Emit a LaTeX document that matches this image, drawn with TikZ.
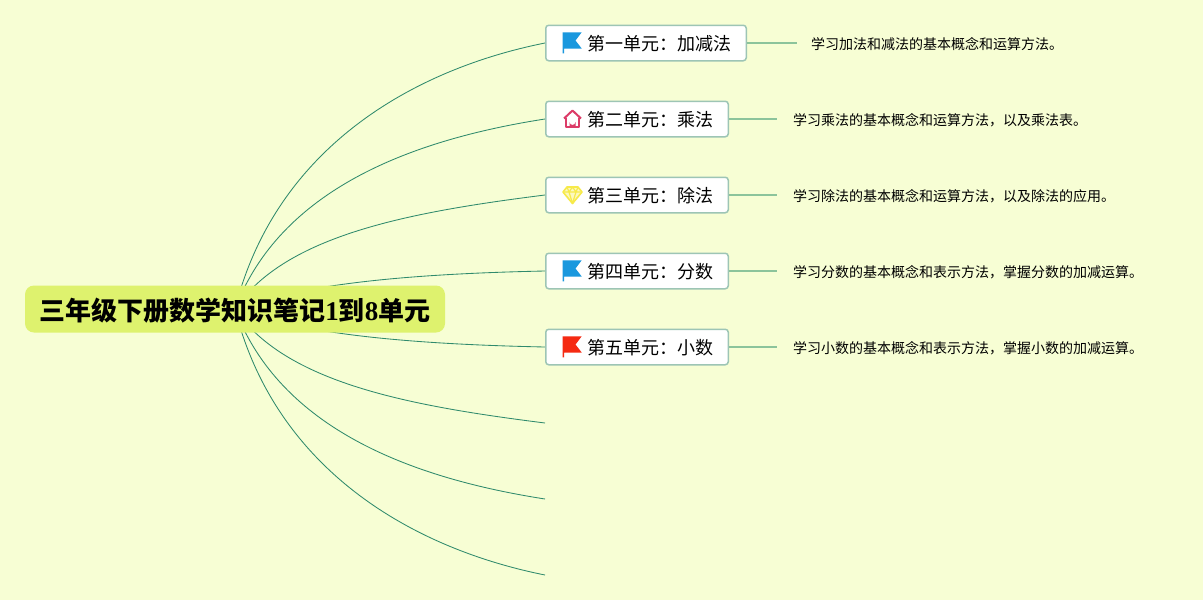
\documentclass[tikz,border=0pt]{standalone}
\usepackage{fontspec}
\setmainfont{Noto Sans CJK SC}
\newfontfamily\digitfont{Liberation Serif}[BoldFont={Liberation Serif Bold}]
\pgfdeclarelayer{background}
\pgfsetlayers{background,main}
\definecolor{bgc}{HTML}{F7FED4}
\definecolor{rootc}{HTML}{DEF26E}
\definecolor{boxb}{HTML}{9DC5B5}
\definecolor{curvec}{HTML}{2F8A6C}
\definecolor{linec}{HTML}{8CC49B}
\definecolor{flagb}{HTML}{1A98DE}
\definecolor{flagr}{HTML}{F52A12}
\definecolor{homec}{HTML}{DC3C68}
\definecolor{gemc}{HTML}{F7EA4A}
\tikzset{
  x=1pt,y=-1pt,
  rootnode/.style={fill=rootc,rounded corners=9pt,minimum width=420pt,minimum height=47pt,inner sep=0pt,text height=23.6pt,text depth=0.2pt,font=\fontsize{26pt}{30pt}\selectfont\bfseries},
  unit/.style={draw=boxb,line width=1.5pt,fill=white,rounded corners=3pt,minimum height=35.5pt,inner ysep=0pt,inner xsep=0pt,anchor=west,text height=15.4pt,text depth=0.4pt,font=\fontsize{18pt}{22pt}\selectfont},
  detail/.style={anchor=west,inner sep=0pt,font=\fontsize{14pt}{18pt}\selectfont},
  curve/.style={draw=curvec,line width=0.85pt},
  stub/.style={draw=linec,line width=1.5pt},
  flagicon/.pic={\fill[pic actions] (-9.3,-10.7) -- (9.7,-10.7) -- (3.5,-2.5) -- (9.7,5.5) -- (-8,5.5) -- (-8,10.3) -- (-9.3,10.3) -- cycle;},
  homeicon/.pic={
    \draw[homec,line width=2pt,line join=round] (-8.5,-0.5) -- (0,-8.5) -- (8.5,-0.5);
    \draw[homec,line width=2pt,line join=round] (-6.5,-1.5) -- (-6.5,8) -- (6.5,8) -- (6.5,-1.5);
    \fill[homec] (-3,8) -- (-3,3) arc[start angle=180,end angle=0,radius=3] -- (3,8) -- cycle;},
  gemicon/.pic={
    \draw[gemc,fill=gemc!35!white,line width=1.6pt,line join=round] (-5.5,-8) -- (5.5,-8) -- (9.5,-3) -- (0,8.5) -- (-9.5,-3) -- cycle;
    \draw[gemc,line width=1.2pt,line join=round] (-9.5,-3) -- (9.5,-3) (-5.5,-8) -- (-3.5,-3) -- (0,-8) -- (3.5,-3) -- (5.5,-8) (-3.5,-3) -- (0,8.5) -- (3.5,-3);}
}
\begin{document}
\begin{tikzpicture}
\useasboundingbox (0,0) rectangle (1203,600);
\node[rootnode] (root) at (235,309) {三年级下册数学知识笔记{\digitfont\fontsize{27pt}{30pt}\selectfont 1}到{\digitfont\fontsize{27pt}{30pt}\selectfont 8}单元};

\node[unit,minimum width=200.5pt,text width=200.5pt] (u1) at (545,43) {\hspace*{41.5pt}第一单元：加减法};
\node[unit,minimum width=182.5pt,text width=182.5pt] (u2) at (545,119) {\hspace*{41.5pt}第二单元：乘法};
\node[unit,minimum width=182.5pt,text width=182.5pt] (u3) at (545,195) {\hspace*{41.5pt}第三单元：除法};
\node[unit,minimum width=182.5pt,text width=182.5pt] (u4) at (545,271) {\hspace*{41.5pt}第四单元：分数};
\node[unit,minimum width=182.5pt,text width=182.5pt] (u5) at (545,347) {\hspace*{41.5pt}第五单元：小数};

\pic[fill=flagb] at (572,43) {flagicon};
\pic at (572.5,119) {homeicon};
\pic at (572.5,195) {gemicon};
\pic[fill=flagb] at (572,271) {flagicon};
\pic[fill=flagr] at (572,347) {flagicon};

\node[detail] (d1) at (811,44) {学习加法和减法的基本概念和运算方法。};
\node[detail] (d2) at (793,120) {学习乘法的基本概念和运算方法，以及乘法表。};
\node[detail] (d3) at (793,196) {学习除法的基本概念和运算方法，以及除法的应用。};
\node[detail] (d4) at (793,272) {学习分数的基本概念和表示方法，掌握分数的加减运算。};
\node[detail] (d5) at (793,348) {学习小数的基本概念和表示方法，掌握小数的加减运算。};

\coordinate (e1) at (797,43);
\coordinate (e2) at (777,119);
\coordinate (e3) at (777,195);
\coordinate (e4) at (777,271);
\coordinate (e5) at (777,347);
\coordinate (o6) at (545,423);
\coordinate (o7) at (545,499);
\coordinate (o8) at (545,575);

\foreach \i in {1,...,5} \draw[stub] (u\i.east) -- (e\i);

\begin{pgfonlayer}{background}
\fill[bgc] (0,0) rectangle (1203,600);
\draw[curve] (root.center) .. controls (275,150) and (410,70) .. (u1.west);
\draw[curve] (root.center) .. controls (280,190) and (410,140) .. (u2.west);
\draw[curve] (root.center) .. controls (285,235) and (410,212) .. (u3.west);
\draw[curve] (root.center) .. controls (300,285) and (400,274) .. (u4.west);
\draw[curve] (root.center) .. controls (300,333) and (400,344) .. (u5.west);
\draw[curve] (root.center) .. controls (285,383) and (410,406) .. (o6);
\draw[curve] (root.center) .. controls (280,428) and (410,478) .. (o7);
\draw[curve] (root.center) .. controls (275,468) and (410,548) .. (o8);
\end{pgfonlayer}
\end{tikzpicture}
\end{document}
